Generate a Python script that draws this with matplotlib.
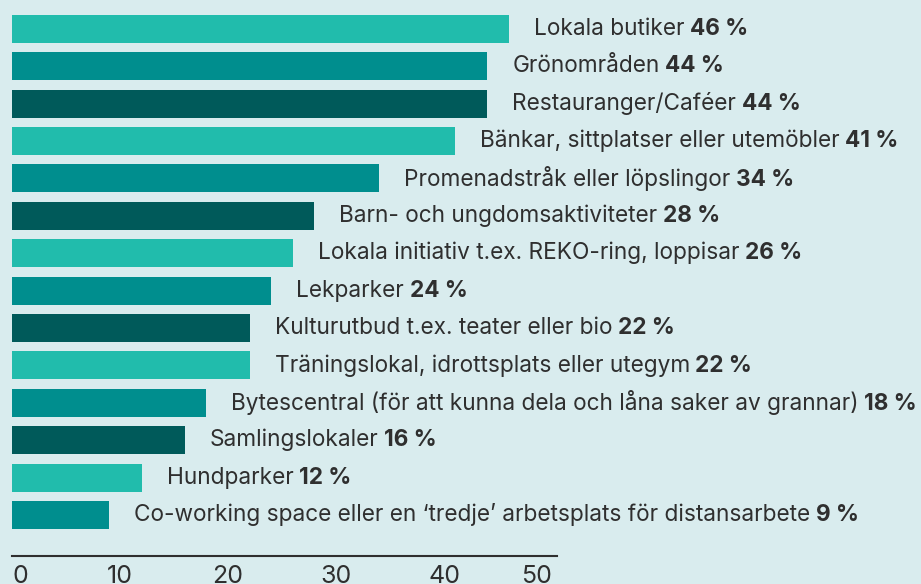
import matplotlib.pyplot as plt

# survey data (share of respondents, %)
categories = [
    "Lokala butiker",
    "Grönområden",
    "Restauranger/Caféer",
    "Bänkar, sittplatser eller utemöbler",
    "Promenadstråk eller löpslingor",
    "Barn- och ungdomsaktiviteter",
    "Lokala initiativ t.ex. REKO-ring, loppisar",
    "Lekparker",
    "Kulturutbud t.ex. teater eller bio",
    "Träningslokal, idrottsplats eller utegym",
    "Bytescentral (för att kunna dela och låna saker av grannar)",
    "Samlingslokaler",
    "Hundparker",
    "Co-working space eller en \u2018tredje\u2019 arbetsplats för distansarbete",
]
values = [46, 44, 44, 41, 34, 28, 26, 24, 22, 22, 18, 16, 12, 9]
xticks = [0, 10, 20, 30, 40, 50]

bg = "#d9ecee"
palette = ["#21bcac", "#008e8e", "#005a5a"]
text_col = "#2f2f2f"

plt.rcParams['font.family'] = ['Inter', 'DejaVu Sans']

W, H = 921, 584
fig = plt.figure(figsize=(W / 100, H / 100), dpi=100, facecolor=bg)

# axes spans from the bar origin (12 px) to the right edge, full height
px_per_unit = 10.8
x0_px = 12
ax = fig.add_axes([x0_px / W, 0, (W - x0_px) / W, 1])
ax.set_facecolor(bg)
ax.set_xlim(0, (W - x0_px) / px_per_unit)

row_px = 37.4
first_px = 28.8
ax.set_ylim((H - first_px) / row_px, -first_px / row_px)

colors = [palette[i % 3] for i in range(len(values))]
ypos = list(range(len(values)))
ax.barh(ypos, values, height=28 / row_px, color=colors, linewidth=0)

fs = 16.3
for y, v, name in zip(ypos, values, categories):
    t = ax.annotate(name, xy=(v, y), xytext=(18, 0), textcoords='offset points',
                    va='center', ha='left', fontsize=fs, color=text_col)
    ax.annotate(f"{v} %", xy=(1, 0), xycoords=t, xytext=(4, 0),
                textcoords='offset points', va='bottom', ha='left',
                fontsize=fs, fontweight='bold', color=text_col)

# bottom axis line with ticks
for s in ['top', 'right', 'left']:
    ax.spines[s].set_visible(False)
axis_y = (556.5 - first_px) / row_px
ax.spines['bottom'].set_position(('data', axis_y))
ax.spines['bottom'].set_bounds(0, 50.5)
ax.spines['bottom'].set_color(text_col)
ax.spines['bottom'].set_linewidth(1.5)
ax.set_yticks([])
ax.set_xticks(xticks)
ax.tick_params(axis='x', length=0, pad=6, labelsize=18, labelcolor=text_col)
labels = ax.get_xticklabels()
labels[0].set_horizontalalignment('left')
labels[-1].set_horizontalalignment('right')

fig.savefig("out.png", dpi=100, facecolor=bg)
